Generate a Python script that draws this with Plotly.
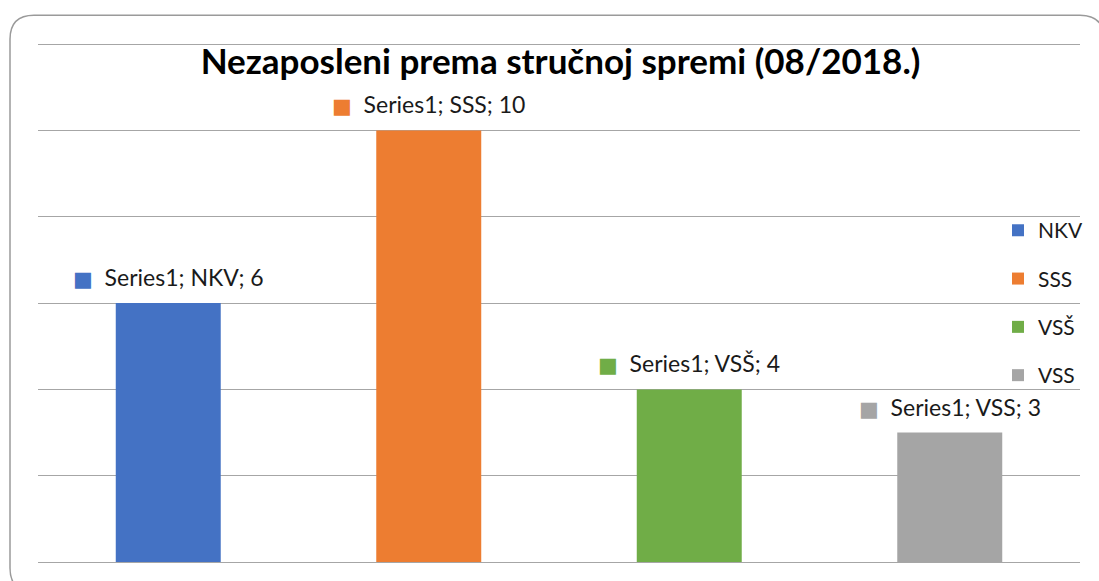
import plotly.graph_objects as go

categories = ["NKV", "SSS", "VSŠ", "VSS"]
values = [6, 10, 4, 3]
series_name = "Series1"
colors = ["#4472C4", "#ED7D31", "#70AD47", "#A5A5A5"]
title_text = "Nezaposleni prema stručnoj spremi (08/2018.)"

W, H = 1099, 581
YMAX = 12
YTOP = 12.05
ML, MR, MB = 38, 19, 19
PW = W - ML - MR
PH = (562 - 44) * YTOP / YMAX
MT = H - MB - PH

FONT = "Lato, 'Open Sans', sans-serif"

fig = go.Figure()
for cat, val, col in zip(categories, values, colors):
    fig.add_trace(go.Bar(
        x=[cat], y=[val], name=cat, marker=dict(color=col, line=dict(width=0)),
        legendgroup=cat, hoverinfo="skip",
    ))
    fig.add_annotation(
        x=cat, y=val, xref="x", yref="y", yanchor="middle", yshift=26,
        showarrow=False,
        text=(f'<span style="color:{col};font-family:DejaVu Sans;font-size:21px">■</span>'
              f'  {series_name}; {cat}; {val}'),
        font=dict(family=FONT, size=23, color="#1a1a1a"),
    )

def px(x):
    return (x - ML) / PW

def py(y):
    return (H - MB - y) / PH

L, T, R, B, r = 10, 15, 1104, 592, 24
path = (
    f"M{px(L + r)},{py(T)} H{px(R - r)} Q{px(R)},{py(T)} {px(R)},{py(T + r)} "
    f"V{py(B - r)} Q{px(R)},{py(B)} {px(R - r)},{py(B)} H{px(L + r)} "
    f"Q{px(L)},{py(B)} {px(L)},{py(B - r)} V{py(T + r)} Q{px(L)},{py(T)} {px(L + r)},{py(T)} Z"
)
fig.add_shape(type="path", path=path, xref="paper", yref="paper",
              line=dict(color="#9a9a9a", width=1.5), fillcolor="rgba(0,0,0,0)", layer="above")

fig.update_layout(
    width=W, height=H,
    margin=dict(l=ML, r=MR, t=MT, b=MB, autoexpand=False),
    paper_bgcolor="white", plot_bgcolor="white",
    barmode="overlay", bargap=0.597,
    title=dict(text=f"<b>{title_text}</b>", x=0.51, xanchor="center",
               y=1 - 62 / H, yanchor="middle", yref="container",
               font=dict(family=FONT, size=35, color="#000000")),
    xaxis=dict(showticklabels=False, showgrid=False, zeroline=False, showline=False,
               range=[-0.5, 3.5], fixedrange=True),
    yaxis=dict(range=[0, YTOP], dtick=2, showticklabels=False, showgrid=True,
               gridcolor="#a6a6a6", gridwidth=1.4, zeroline=True, zerolinecolor="#a6a6a6",
               zerolinewidth=1.4, showline=False, ticks="", fixedrange=True),
    legend=dict(x=px(998), xanchor="left", y=py(210), yanchor="top",
                font=dict(family=FONT, size=21, color="#1a1a1a"),
                bgcolor="rgba(0,0,0,0)", tracegroupgap=18, traceorder="grouped"),
    showlegend=True,
)

fig.write_html("out.html", config={"displayModeBar": False},
               post_script="document.body.style.margin='0px';document.body.style.overflow='hidden';")
